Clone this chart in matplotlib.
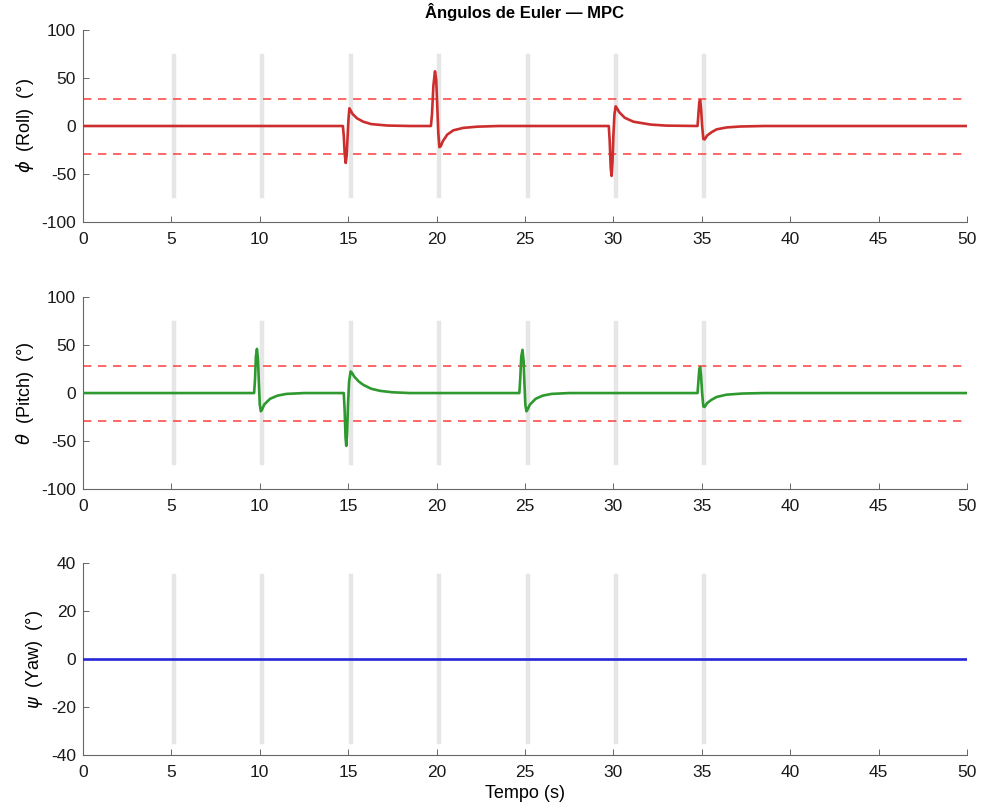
import numpy as np
import matplotlib.pyplot as plt

plt.rcParams['font.family'] = ['Liberation Sans', 'DejaVu Sans']
plt.rcParams['mathtext.fontset'] = 'dejavusans'
plt.rcParams['axes.unicode_minus'] = False

# roll response (time s, angle deg)
roll_t = [0, 14.70, 14.75, 14.80, 14.86, 14.92, 14.97, 15.02, 15.07, 15.13, 15.25, 15.5, 15.85, 16.3, 17.2, 18.5,
          19.68, 19.74, 19.82, 19.91, 19.98, 20.04, 20.10, 20.16, 20.24, 20.35, 20.6, 20.95, 21.5, 22.3, 23.5,
          29.74, 29.79, 29.85, 29.90, 29.95, 30.00, 30.06, 30.13, 30.2, 30.35, 30.65, 31.13, 32.1, 33.0,
          34.76, 34.80, 34.86, 34.91, 34.96, 35.02, 35.09, 35.16, 35.3, 35.55, 35.84, 36.4, 37.2, 38.5, 50]
roll_v = [0, 0, -10, -28, -38.5, -30, -10, 8, 18.4, 16.5, 12.5, 8, 4.5, 2, 0.5, 0,
          0, 12, 42, 57, 48, 20, -8, -22, -21, -16, -9, -4.5, -2, -0.7, 0,
          0, -15, -44, -52, -38, -10, 12, 20.5, 18.5, 14, 8.5, 4.5, 1.5, 0.4,
          0, 10, 25, 27, 18, 0, -13.5, -14, -10, -6.5, -3.5, -1.5, -0.5, 0, 0]

# pitch response
pitch_t = [0, 9.68, 9.73, 9.78, 9.84, 9.90, 9.95, 10.00, 10.06, 10.12, 10.25, 10.58, 11.0, 11.5, 12.5,
           14.75, 14.80, 14.85, 14.89, 14.94, 14.99, 15.05, 15.14, 15.22, 15.35, 15.6, 15.86, 16.3, 16.8, 17.5, 18.5,
           24.68, 24.73, 24.79, 24.86, 24.92, 24.97, 25.02, 25.08, 25.14, 25.28, 25.6, 26.0, 26.5, 27.5,
           34.76, 34.80, 34.86, 34.91, 34.96, 35.02, 35.09, 35.16, 35.3, 35.55, 35.85, 36.4, 37.3, 38.5, 50]
pitch_v = [0, 0, 14, 38, 46, 35, 10, -12, -19, -17.5, -12, -6, -2.7, -0.9, 0,
           0, -18, -46, -55, -42, -12, 12, 22.5, 21, 17, 12, 8.5, 4.5, 2.3, 0.8, 0,
           0, 14, 38, 45, 34, 10, -12, -19, -17.5, -12, -6, -2.7, -0.9, 0,
           0, 10, 25, 27, 18, 0, -14, -14.5, -10.5, -7, -4, -1.7, -0.5, 0, 0]

# yaw response
yaw_t = [0, 50]
yaw_v = [0, 0]

event_times = [5.15, 10.15, 15.15, 20.15, 25.15, 30.15, 35.15]
limit = 28.65

series = [
    (roll_t, roll_v, (0.80, 0.18, 0.18), r'$\phi$  (Roll)  (°)', 100, 73, True, [-100, -50, 0, 50, 100]),
    (pitch_t, pitch_v, (0.18, 0.60, 0.18), r'$\theta$  (Pitch)  (°)', 100, 73, True, [-100, -50, 0, 50, 100]),
    (yaw_t, yaw_v, (0.15, 0.15, 0.85), r'$\psi$  (Yaw)  (°)', 40, 34.5, False, [-40, -20, 0, 20, 40]),
]

fig = plt.figure(figsize=(9.82, 8.09), dpi=100)
bottoms = [0.7256, 0.3955, 0.0667]

for (t, v, col, lab, lim, bar_h, show_lim, yt), b in zip(series, bottoms):
    ax = fig.add_axes([0.0845, b, 0.9002, 0.2373])
    for et in event_times:
        ax.plot([et, et], [-bar_h, bar_h], color=(0.9, 0.9, 0.9), lw=3.2, zorder=1)
    if show_lim:
        ax.axhline(limit, color=(1.0, 0.3, 0.3), ls=(0, (5, 4)), lw=1.2, zorder=2)
        ax.axhline(-limit, color=(1.0, 0.3, 0.3), ls=(0, (5, 4)), lw=1.2, zorder=2)
    ax.plot(t, v, color=col, lw=1.9, zorder=3)
    ax.set_xlim(0, 50)
    ax.set_ylim(-lim, lim)
    ax.set_xticks(np.arange(0, 51, 5))
    ax.set_yticks(yt)
    ax.spines['top'].set_visible(False)
    ax.spines['right'].set_visible(False)
    for s in ['left', 'bottom']:
        ax.spines[s].set_color('#666666')
        ax.spines[s].set_linewidth(0.8)
    ax.tick_params(direction='in', length=4, width=0.7, labelsize=12.5,
                   colors='#666666', labelcolor='#1a1a1a')
    ax.tick_params(axis='x', pad=7)
    ax.tick_params(axis='y', pad=5)
    ax.set_ylabel(lab, fontsize=13, labelpad=4)
    if b == bottoms[0]:
        ax.set_title('Ângulos de Euler — MPC', fontsize=12, fontweight='bold', pad=9)
    if b == bottoms[-1]:
        ax.set_xlabel('Tempo (s)', fontsize=13, labelpad=4)

fig.savefig('out.png', dpi=100)
